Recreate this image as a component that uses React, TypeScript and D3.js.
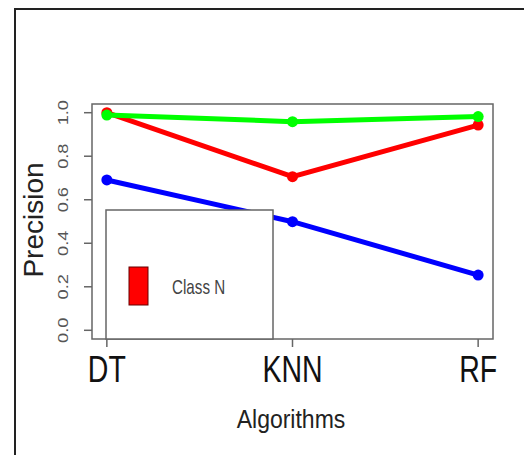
import React from "react";
import * as d3 from "d3";

const categories = ["DT", "KNN", "RF"];
const redValues = [1.0, 0.706, 0.943];
const greenValues = [0.989, 0.959, 0.982];
const blueValues = [0.691, 0.499, 0.254];
const yTicks = [0, 0.2, 0.4, 0.6, 0.8, 1.0];
const legendLabels = ["Class N"];

const W = 524;
const H = 455;
const box = { left: 92, right: 493, top: 104, bottom: 339 };

export default function App() {
  const x = d3
    .scalePoint<string>()
    .domain(categories)
    .range([box.left, box.right])
    .padding(0.08);
  const y = d3.scaleLinear().domain([-0.04, 1.04]).range([box.bottom, box.top]);
  const line = d3
    .line<number>()
    .x((_, i) => x(categories[i]) as number)
    .y((d) => y(d));

  const series = [
    { values: blueValues, color: "#0000ff" },
    { values: redValues, color: "#ff0000" },
    { values: greenValues, color: "#00ff00" },
  ];
  const font = "'Liberation Sans', Arial, Helvetica, sans-serif";

  return (
    <svg
      width={W}
      height={H}
      style={{ position: "absolute", left: 0, top: 0, background: "#fff" }}
      fontFamily={font}
    >
      <rect x={0} y={0} width={W} height={H} fill="#fff" />
      <path d={`M15,${H} L15,9 L${W},9`} fill="none" stroke="#222" strokeWidth={2} />

      {/* series */}
      {series.map((s, si) => (
        <g key={si}>
          <path d={line(s.values) || ""} fill="none" stroke={s.color} strokeWidth={5} />
          {s.values.map((v, i) => (
            <circle key={i} cx={x(categories[i])} cy={y(v)} r={5.5} fill={s.color} />
          ))}
        </g>
      ))}

      {/* plot box */}
      <rect
        x={box.left}
        y={box.top}
        width={box.right - box.left}
        height={box.bottom - box.top}
        fill="none"
        stroke="#666"
        strokeWidth={1.5}
      />

      {/* y axis */}
      {yTicks.map((t) => (
        <g key={t}>
          <line x1={box.left} x2={box.left - 8} y1={y(t)} y2={y(t)} stroke="#666" strokeWidth={1.5} />
          <g transform={`translate(68,${y(t)}) rotate(-90) scale(1.3,1)`}>
            <text textAnchor="middle" fontSize={14} fill="#555">
              {t.toFixed(1)}
            </text>
          </g>
        </g>
      ))}
      <g transform={`translate(43,220) rotate(-90)`}>
        <text textAnchor="middle" fontSize={28} fill="#222">
          Precision
        </text>
      </g>

      {/* x axis */}
      {categories.map((c) => (
        <g key={c}>
          <line
            x1={x(c)}
            x2={x(c)}
            y1={box.bottom}
            y2={box.bottom + 8}
            stroke="#666"
            strokeWidth={1.5}
          />
          <g transform={`translate(${x(c)},382) scale(0.77,1)`}>
            <text textAnchor="middle" fontSize={37} fill="#111">
              {c}
            </text>
          </g>
        </g>
      ))}
      <g transform={`translate(291,428) scale(0.92,1)`}>
        <text textAnchor="middle" fontSize={25} fill="#222">
          Algorithms
        </text>
      </g>

      {/* legend */}
      <rect x={106} y={210} width={167} height={129} fill="#fff" stroke="#666" strokeWidth={1.5} />
      {legendLabels.map((l, i) => (
        <g key={l}>
          <rect x={129} y={267 + i * 40} width={19} height={38} fill="#ff0000" stroke="#600" strokeWidth={1} />
          <g transform={`translate(172,${294 + i * 40}) scale(0.76,1)`}>
            <text fontSize={20} fill="#444">
              {l}
            </text>
          </g>
        </g>
      ))}
    </svg>
  );
}
